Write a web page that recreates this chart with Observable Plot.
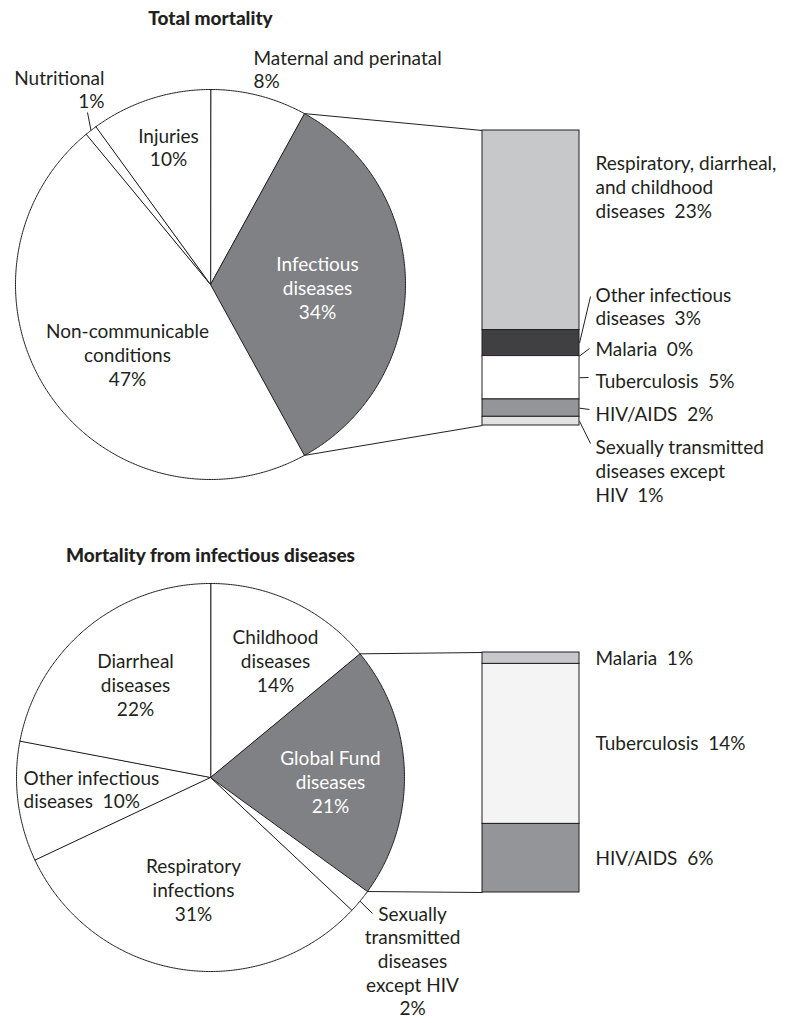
<!DOCTYPE html>
<html>
<head>
<meta charset="utf-8">
<script src="https://cdn.jsdelivr.net/npm/d3@7"></script>
<script src="https://cdn.jsdelivr.net/npm/@observablehq/plot@0.6"></script>
<style>
  html, body { margin: 0; padding: 0; background: #ffffff; }
</style>
</head>
<body>
<div id="chart"></div>
<script>
// ---------------- DATA ----------------
// Top pie: total mortality (clockwise from 12 o'clock)
const totalNames  = ["Maternal and perinatal", "Infectious diseases", "Non-communicable conditions", "Nutritional", "Injuries"];
const totalLabels = ["Maternal and perinatal\n", "Infectious\ndiseases\n", "Non-communicable\nconditions\n", "Nutritional\n", "Injuries\n"];
const totalValues = [8, 34, 47, 1, 10];

// Top bar: breakdown of infectious diseases (top to bottom)
const infBarNames  = ["Respiratory, diarrheal, and childhood diseases", "Other infectious diseases", "Malaria", "Tuberculosis", "HIV/AIDS", "Sexually transmitted diseases except HIV"];
const infBarLabels = ["Respiratory, diarrheal,\nand childhood\ndiseases  ", "Other infectious\ndiseases  ", "Malaria  ", "Tuberculosis  ", "HIV/AIDS  ", "Sexually transmitted\ndiseases except\nHIV  "];
const infBarValues = [23, 3, 0, 5, 2, 1];

// Bottom pie: mortality from infectious diseases (clockwise from 12 o'clock)
const infNames  = ["Childhood diseases", "Global Fund diseases", "Sexually transmitted diseases except HIV", "Respiratory infections", "Other infectious diseases", "Diarrheal diseases"];
const infLabels = ["Childhood\ndiseases\n", "Global Fund\ndiseases\n", "Sexually\ntransmitted\ndiseases\nexcept HIV\n", "Respiratory\ninfections\n", "Other infectious\ndiseases  ", "Diarrheal\ndiseases\n"];
const infValues = [14, 21, 2, 31, 10, 22];

// Bottom bar: Global Fund diseases (top to bottom)
const gfNames  = ["Malaria", "Tuberculosis", "HIV/AIDS"];
const gfLabels = ["Malaria  ", "Tuberculosis  ", "HIV/AIDS  "];
const gfValues = [1, 14, 6];

const titles = ["Total mortality", "Mortality from infectious diseases"];

// ---------------- STYLE / LAYOUT ----------------
const W = 790, H = 1023;
const INK = "#231f20";
const FONT = "Lato";
const FS = 19;

const totalColors = ["#ffffff", "#808184", "#ffffff", "#ffffff", "#ffffff"];
const infBarColors = ["#c7c8ca", "#404042", "#ffffff", "#ffffff", "#939598", "#e2e2e3"];
const infColors = ["#ffffff", "#808184", "#ffffff", "#ffffff", "#ffffff", "#ffffff"];
const gfColors = ["#c7c8ca", "#f4f4f4", "#939598"];

const topLayout = {
  cx: 210, cy: 284, r: 195, explode: 1,
  bar: {x1: 482, x2: 579, top: 130, bottom: 425},
  title: {x: 210, y: 18},
  pieLabels: [
    {x: 253, y: 68.5, anchor: "start"},
    {x: 317, y: 287, anchor: "middle"},
    {x: 127, y: 354, anchor: "middle"},
    {x: 104, y: 88.5, anchor: "end", leader: [87, 112]},
    {x: 168, y: 146.5, anchor: "middle"}
  ],
  barLabels: [
    {x: 595, y: 186},
    {x: 595, y: 305.5, leader: [590, 296]},
    {x: 595, y: 348, leader: [589, 348]},
    {x: 595, y: 380, leader: [588, 377]},
    {x: 595, y: 413, leader: [589, 409]},
    {x: 595, y: 470, leader: [590, 443]}
  ]
};

const bottomLayout = {
  cx: 210, cy: 777, r: 194, explode: 1,
  bar: {x1: 482, x2: 579, top: 652, bottom: 892},
  title: {x: 210, y: 555},
  pieLabels: [
    {x: 275, y: 660, anchor: "middle"},
    {x: 330, y: 781, anchor: "middle"},
    {x: 412, y: 960, anchor: "middle", leader: [372, 913]},
    {x: 193, y: 889, anchor: "middle"},
    {x: 23, y: 788.5, anchor: "start"},
    {x: 135, y: 684, anchor: "middle"}
  ],
  barLabels: [
    {x: 595, y: 657},
    {x: 595, y: 742},
    {x: 595, y: 857}
  ]
};

// ---------------- GEOMETRY ----------------
function pieGeometry(names, values, colors, L) {
  const total = d3.sum(values);
  let cum = 0;
  const at = a => ({x: L.cx + L.r * Math.sin(a), y: L.cy - L.r * Math.cos(a)});
  const slices = values.map((v, i) => {
    const a0 = cum / total * 2 * Math.PI; cum += v;
    const a1 = cum / total * 2 * Math.PI;
    return {name: names[i], value: v, color: colors[i], a0, a1, am: (a0 + a1) / 2};
  });
  const pts = [];
  for (const s of slices) {
    pts.push({slice: s.name, color: s.color, x: L.cx, y: L.cy});
    const n = Math.max(2, Math.ceil((s.a1 - s.a0) / (Math.PI / 360)));
    for (let k = 0; k <= n; k++) {
      const p = at(s.a0 + (s.a1 - s.a0) * k / n);
      pts.push({slice: s.name, color: s.color, x: p.x, y: p.y});
    }
  }
  return {slices, pts, at};
}

function barGeometry(names, values, colors, B) {
  const total = d3.sum(values);
  const k = (B.bottom - B.top) / total;
  let cum = 0;
  return values.map((v, i) => {
    const y1 = B.top + cum * k; cum += v;
    const y2 = B.top + cum * k;
    return {name: names[i], value: v, color: colors[i], x1: B.x1, x2: B.x2, y1, y2, ym: (y1 + y2) / 2};
  });
}

function chartMarks(names, labels, values, colors, barNames, barLabels, barValues, barColors, title, L) {
  const pie = pieGeometry(names, values, colors, L);
  const bar = barGeometry(barNames, barValues, barColors, L.bar);
  const hi = pie.slices[L.explode];
  const p0 = pie.at(hi.a0), p1 = pie.at(hi.a1);
  const connectors = [
    {x1: p0.x, y1: p0.y, x2: L.bar.x1, y2: L.bar.top},
    {x1: p1.x, y1: p1.y, x2: L.bar.x1, y2: L.bar.bottom}
  ];
  const pieText = pie.slices.map((s, i) => ({
    text: labels[i] + s.value + "%",
    x: L.pieLabels[i].x, y: L.pieLabels[i].y, anchor: L.pieLabels[i].anchor,
    fill: i === L.explode ? "#ffffff" : INK
  }));
  const barText = bar.map((b, i) => ({
    text: barLabels[i] + b.value + "%",
    x: L.barLabels[i].x, y: L.barLabels[i].y, anchor: "start", fill: INK
  }));
  const leaders = [];
  pie.slices.forEach((s, i) => {
    const lead = L.pieLabels[i].leader;
    if (lead) { const p = pie.at(s.am); leaders.push({x1: p.x, y1: p.y, x2: lead[0], y2: lead[1]}); }
  });
  bar.forEach((b, i) => {
    const lead = L.barLabels[i].leader;
    if (lead) leaders.push({x1: b.x2, y1: b.ym, x2: lead[0], y2: lead[1]});
  });
  const texts = pieText.concat(barText);
  const textMarks = ["start", "middle", "end"].map(anchor =>
    Plot.text(texts.filter(t => t.anchor === anchor), {
      x: "x", y: "y", text: "text", fill: "fill", textAnchor: anchor,
      lineAnchor: "middle", lineHeight: 1.24, fontSize: FS, fontFamily: FONT
    })
  );
  return [
    Plot.line(pie.pts, {x: "x", y: "y", z: "slice", fill: "color", stroke: INK, strokeWidth: 1, curve: "linear-closed"}),
    Plot.link(connectors, {x1: "x1", y1: "y1", x2: "x2", y2: "y2", stroke: INK, strokeWidth: 1}),
    Plot.rect(bar, {x1: "x1", x2: "x2", y1: "y1", y2: "y2", fill: "color", stroke: INK, strokeWidth: 1}),
    Plot.link(leaders, {x1: "x1", y1: "y1", x2: "x2", y2: "y2", stroke: INK, strokeWidth: 1}),
    ...textMarks,
    Plot.text([title], {x: () => L.title.x, y: () => L.title.y, text: d => d, fontWeight: "900", fontSize: 19, fontFamily: FONT, fill: INK, lineAnchor: "middle"})
  ];
}

const chart = Plot.plot({
  width: W, height: H,
  margin: 0,
  x: {domain: [0, W], range: [0, W], axis: null},
  y: {domain: [0, H], range: [0, H], axis: null},
  color: {type: "identity"},
  style: {fontFamily: FONT, background: "#ffffff", color: INK},
  marks: [
    ...chartMarks(totalNames, totalLabels, totalValues, totalColors, infBarNames, infBarLabels, infBarValues, infBarColors, titles[0], topLayout),
    ...chartMarks(infNames, infLabels, infValues, infColors, gfNames, gfLabels, gfValues, gfColors, titles[1], bottomLayout)
  ]
});
document.getElementById("chart").appendChild(chart);
</script>
</body>
</html>
